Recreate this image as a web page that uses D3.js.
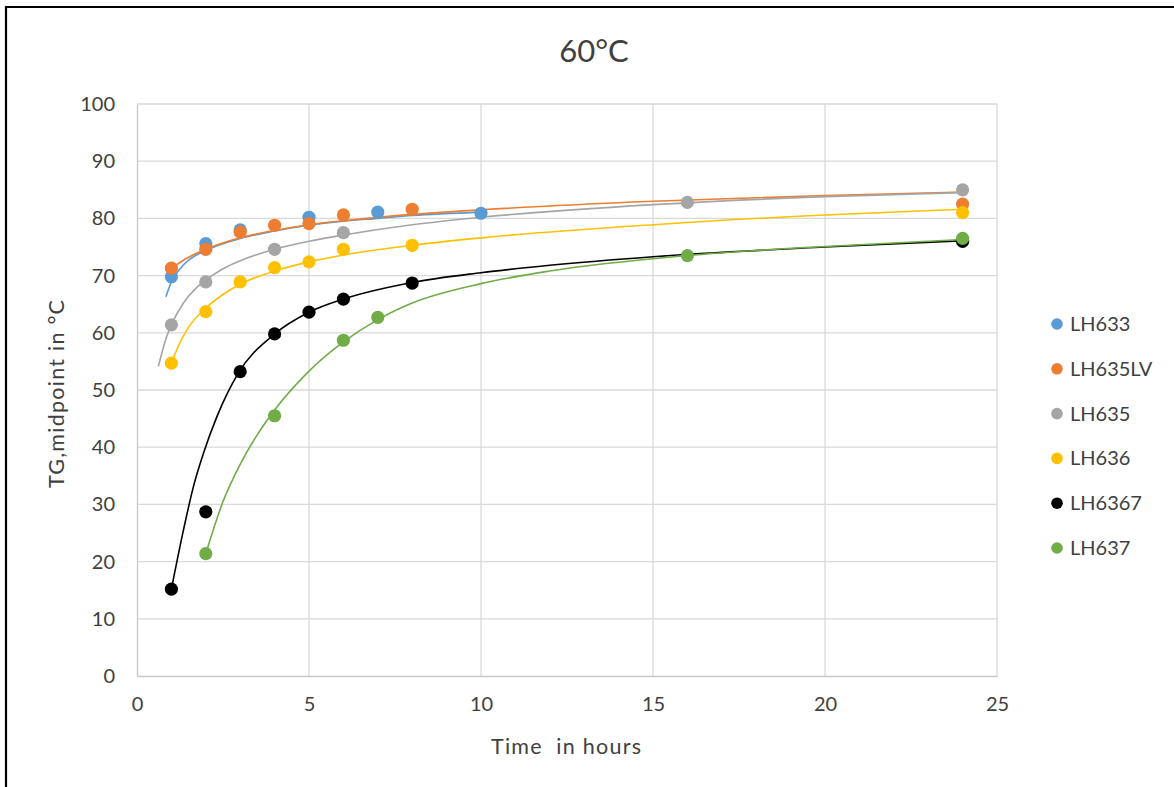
<!DOCTYPE html>
<html>
<head>
<meta charset="utf-8">
<script src="https://cdn.jsdelivr.net/npm/d3@7/dist/d3.min.js"></script>
<style>
  html, body { margin: 0; padding: 0; background: #ffffff; }
  svg { display: block; }
  text { font-family: Lato, "Open Sans", "Liberation Sans", sans-serif; fill: #404040; }
</style>
</head>
<body>
<svg id="chart" width="1174" height="787"></svg>
<script>
// ---- data ----
const seriesNames = ["LH633", "LH635LV", "LH635", "LH636", "LH6367", "LH637"];
const seriesColors = ["#5B9BD5", "#ED7D31", "#A5A5A5", "#FFC000", "#000000", "#70AD47"];

const xLH633   = [1, 2, 3, 5, 7, 10];
const yLH633   = [69.8, 75.6, 78.0, 80.2, 81.1, 80.9];
const xLH635LV = [1, 2, 3, 4, 5, 6, 8, 24];
const yLH635LV = [71.3, 74.6, 77.6, 78.8, 79.1, 80.6, 81.6, 82.5];
const xLH635   = [1, 2, 4, 6, 16, 24];
const yLH635   = [61.4, 68.9, 74.6, 77.5, 82.8, 85.0];
const xLH636   = [1, 2, 3, 4, 5, 6, 8, 24];
const yLH636   = [54.7, 63.7, 68.9, 71.4, 72.4, 74.6, 75.3, 81.0];
const xLH6367  = [1, 2, 3, 4, 5, 6, 8, 24];
const yLH6367  = [15.2, 28.7, 53.2, 59.8, 63.6, 65.9, 68.7, 76.0];
const xLH637   = [2, 4, 6, 7, 16, 24];
const yLH637   = [21.4, 45.5, 58.7, 62.7, 73.5, 76.5];

// trend lines
const tx633   = [0.84, 1, 1.25, 1.5, 2, 3, 4, 5, 6, 7, 8, 10];
const ty633   = [66.3, 68.9, 71.2, 72.7, 74.4, 76.5, 77.8, 78.8, 79.5, 80.0, 80.5, 81.1];
const tx635LV = [1, 1.5, 2, 3, 4, 5, 6, 8, 10, 15, 20, 24];
const ty635LV = [71.3, 73.2, 74.6, 76.6, 77.9, 78.9, 79.6, 80.7, 81.5, 83.0, 84.0, 84.6];
const tx635   = [0.62, 0.86, 1, 1.35, 1.73, 2, 2.5, 3, 4, 5, 6, 8, 10, 15, 20, 24];
const ty635   = [54.1, 59.3, 61.4, 65.2, 67.9, 69.2, 71.2, 72.6, 74.6, 76.0, 77.1, 78.9, 80.2, 82.4, 83.8, 84.5];
const tx636   = [1, 1.25, 1.5, 2, 2.5, 3, 4, 5, 6, 8, 10, 15, 20, 24];
const ty636   = [54.7, 58.3, 61.0, 64.3, 66.7, 68.5, 70.8, 72.4, 73.6, 75.3, 76.6, 78.9, 80.6, 81.6];
const tx6367  = [1, 1.35, 1.64, 1.93, 2.32, 2.94, 4, 5, 6, 8, 10, 12, 15, 20, 24];
const ty6367  = [15.2, 25.5, 33.1, 38.9, 45.3, 52.9, 59.8, 63.6, 65.9, 68.8, 70.5, 71.8, 73.3, 75.0, 76.1];
const tx637   = [2, 2.5, 3, 3.5, 4, 5, 6, 7, 8, 10, 12, 16, 20, 24];
const ty637   = [21.4, 30.5, 37.0, 42.2, 46.5, 53.3, 58.4, 62.3, 65.2, 68.6, 70.8, 73.5, 75.1, 76.3];

const xTicks = [0, 5, 10, 15, 20, 25];
const yTicks = [0, 10, 20, 30, 40, 50, 60, 70, 80, 90, 100];

const pointsX = [xLH633, xLH635LV, xLH635, xLH636, xLH6367, xLH637];
const pointsY = [yLH633, yLH635LV, yLH635, yLH636, yLH6367, yLH637];
const trendX = [tx633, tx635LV, tx635, tx636, tx6367, tx637];
const trendY = [ty633, ty635LV, ty635, ty636, ty6367, ty637];

// ---- drawing ----
const svg = d3.select("#chart");
const W = 1174, H = 787;
const pLeft = 137, pRight = 997, pTop = 104, pBottom = 676;

// frame
svg.append("path")
  .attr("d", `M6,${H} L6,7 L${W},7`)
  .attr("fill", "none").attr("stroke", "#000").attr("stroke-width", 2.2);

const x = d3.scaleLinear().domain([0, 25]).range([pLeft, pRight]);
const y = d3.scaleLinear().domain([0, 100]).range([pBottom, pTop]);

// gridlines
const grid = svg.append("g");
grid.selectAll(".hg").data(yTicks.filter(t => t > 0)).enter().append("line")
  .attr("x1", pLeft).attr("x2", pRight)
  .attr("y1", d => y(d)).attr("y2", d => y(d))
  .attr("stroke", "#d9d9d9").attr("stroke-width", 1.3);
grid.selectAll(".vg").data(xTicks.filter(t => t > 0)).enter().append("line")
  .attr("y1", pTop).attr("y2", pBottom)
  .attr("x1", d => x(d)).attr("x2", d => x(d))
  .attr("stroke", "#d9d9d9").attr("stroke-width", 1.3);

// axes
const xAxis = svg.append("g").attr("transform", `translate(0,${pBottom})`)
  .call(d3.axisBottom(x).tickValues(xTicks).tickSize(0).tickPadding(21));
const yAxis = svg.append("g").attr("transform", `translate(${pLeft},0)`)
  .call(d3.axisLeft(y).tickValues(yTicks).tickSize(0).tickPadding(22));
[xAxis, yAxis].forEach(a => {
  a.select(".domain").attr("stroke", "#c8c8c8").attr("stroke-width", 1.3);
  a.selectAll("text").style("font-size", "20px").attr("fill", "#404040")
    .style("font-family", "Lato, 'Open Sans', sans-serif");
});

// trend lines
const line = d3.line().curve(d3.curveMonotoneX).x(d => x(d[0])).y(d => y(d[1]));
seriesNames.forEach((n, i) => {
  const pts = trendX[i].map((v, j) => [v, trendY[i][j]]);
  svg.append("path").datum(pts)
    .attr("d", line)
    .attr("fill", "none")
    .attr("stroke", seriesColors[i])
    .attr("stroke-width", 1.6);
});

// points
seriesNames.forEach((n, i) => {
  const pts = pointsX[i].map((v, j) => [v, pointsY[i][j]]);
  svg.append("g").selectAll("circle").data(pts).enter().append("circle")
    .attr("cx", d => x(d[0])).attr("cy", d => y(d[1]))
    .attr("r", 6.6)
    .attr("fill", seriesColors[i]);
});

// title
svg.append("text").attr("x", 594).attr("y", 62)
  .attr("text-anchor", "middle")
  .style("font-size", "31px").attr("fill", "#262626").text("60°C");

// axis titles
svg.append("text").attr("x", 566).attr("y", 754)
  .attr("text-anchor", "middle")
  .style("white-space", "pre")
  .attr("textLength", 150).attr("lengthAdjust", "spacing")
  .style("font-size", "21.5px").attr("fill", "#000").text("Time  in hours");
svg.append("text")
  .attr("transform", "translate(64,394) rotate(-90)")
  .attr("text-anchor", "middle")
  .attr("textLength", 188).attr("lengthAdjust", "spacing")
  .style("font-size", "21.5px").attr("fill", "#000").text("TG,midpoint in °C");

// legend
const legend = svg.append("g");
seriesNames.forEach((n, i) => {
  const ly = 323 + i * 44.8;
  legend.append("circle").attr("cx", 1057).attr("cy", ly + 1).attr("r", 5.8).attr("fill", seriesColors[i]);
  legend.append("text").attr("x", 1070).attr("y", ly + 8)
    .style("font-size", "20px").attr("fill", "#404040").text(n);
});
</script>
</body>
</html>
